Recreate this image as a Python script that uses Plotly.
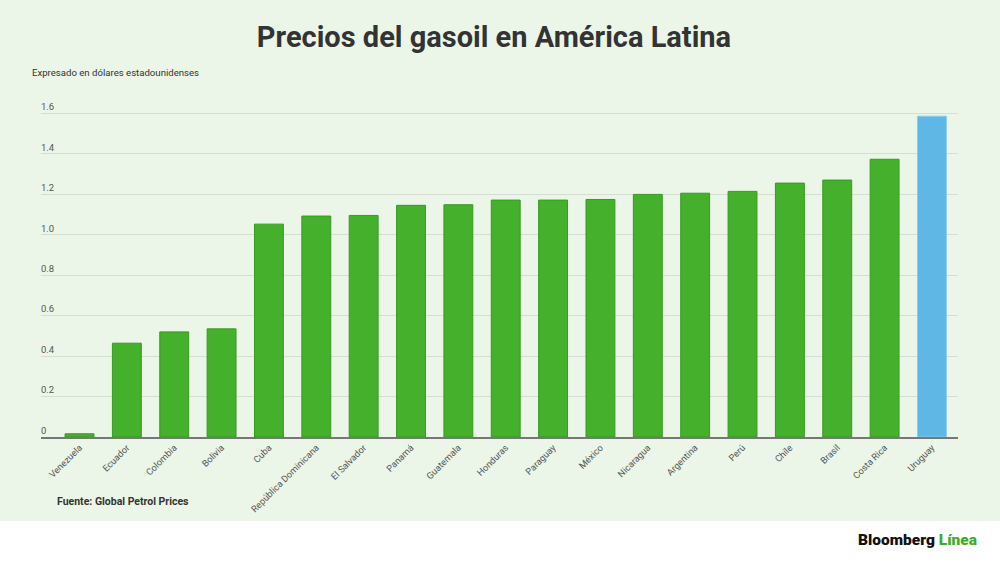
import plotly.graph_objects as go

countries = ["Venezuela", "Ecuador", "Colombia", "Bolivia", "Cuba", "República Dominicana",
             "El Salvador", "Panamá", "Guatemala", "Honduras", "Paraguay", "México",
             "Nicaragua", "Argentina", "Perú", "Chile", "Brasil", "Costa Rica", "Uruguay"]
prices = [0.016, 0.464, 0.520, 0.535, 1.053, 1.093, 1.096, 1.146, 1.149, 1.172, 1.172,
          1.175, 1.200, 1.206, 1.215, 1.256, 1.271, 1.374, 1.587]
highlight = "Uruguay"
y_ticks = [0, 0.2, 0.4, 0.6, 0.8, 1.0, 1.2, 1.4, 1.6]
y_tick_labels = ["0", "0.2", "0.4", "0.6", "0.8", "1.0", "1.2", "1.4", "1.6"]

GREEN = "#44B02B"
GREEN_LINE = "#379A22"
BLUE = "#5FB7E5"
BLUE_LINE = "#8CCBEE"
BG = "#EBF5E8"
TXT = "#333333"

fill = [BLUE if c == highlight else GREEN for c in countries]
outline = [BLUE_LINE if c == highlight else GREEN_LINE for c in countries]

fig = go.Figure(go.Bar(
    x=countries, y=prices,
    marker=dict(color=fill, line=dict(color=outline, width=1)),
    hoverinfo="x+y",
))

fig.update_layout(
    width=1000, height=562,
    margin=dict(l=41, r=42, t=98, b=124.5),
    paper_bgcolor=BG, plot_bgcolor=BG,
    font=dict(family="Roboto", color=TXT),
    bargap=0.39,
    showlegend=False,
    title=dict(text="<b>Precios del gasoil en América Latina</b>", x=0.494, xanchor="center",
               y=0.935, yanchor="middle", font=dict(size=29, color="#333333", family="Roboto")),
    xaxis=dict(
        type="category", range=[-0.813, 18.55], tickangle=-45,
        tickfont=dict(size=9.2, color="#555555", family="Roboto"),
        showgrid=False, showline=True, linecolor="#777777", linewidth=1.5,
        ticks="", fixedrange=True,
    ),
    yaxis=dict(
        range=[0, 1.677], tickvals=y_ticks, ticktext=y_tick_labels,
        ticklabelposition="inside top", ticklabelstandoff=-3,
        tickfont=dict(size=9.5, color="#555555", family="Roboto"),
        showgrid=True, gridcolor="#D6DDD3", gridwidth=1, zeroline=False,
        showline=False, ticks="", fixedrange=True,
    ),
    shapes=[
        dict(type="rect", xref="paper", yref="paper", x0=-0.1, x1=1.1,
             y0=-0.7, y1=-0.248, fillcolor="white", line=dict(width=0), layer="below"),
    ],
    annotations=[
        dict(text="Expresado en dólares estadounidenses", xref="paper", yref="paper",
             x=-0.0125, y=1.0766, xanchor="left", yanchor="middle", showarrow=False,
             font=dict(size=9.6, color=TXT, family="Roboto")),
        dict(text="<b>Fuente: Global Petrol Prices</b>", xref="paper", yref="paper",
             x=0.0155, y=-0.19, xanchor="left", yanchor="middle", showarrow=False,
             font=dict(size=10.5, color=TXT, family="Roboto")),
        dict(text="Bloomberg <span style='color:#3DAE2B'>Línea</span>",
             xref="paper", yref="paper", x=1.0230, y=-0.3049, xanchor="right",
             yanchor="middle", showarrow=False,
             font=dict(size=15.5, color="#111111", family="Roboto", weight=900)),
    ],
)

fig.write_html("out.html", config={"displayModeBar": False},
               post_script="document.body.style.margin='0';")
